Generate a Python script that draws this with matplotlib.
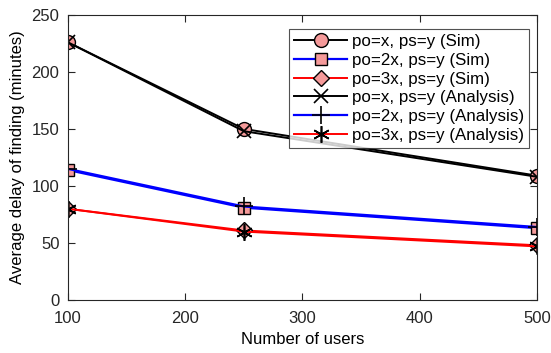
import numpy as np
import matplotlib.pyplot as plt

plt.rcParams['font.family'] = ['Liberation Sans', 'DejaVu Sans']

#%% data
users = [100, 250, 500]
sim_x = [226, 150, 109]
sim_2x = [114, 81, 63]
sim_3x = [80, 61, 48]
ana_x = [226, 148, 108]
ana_2x = [115, 82, 64]
ana_3x = [80, 60, 47]

labels = ['po=x, ps=y (Sim)', 'po=2x, ps=y (Sim)', 'po=3x, ps=y (Sim)',
          'po=x, ps=y (Analysis)', 'po=2x, ps=y (Analysis)', 'po=3x, ps=y (Analysis)']

#%% plot
fig = plt.figure(figsize=(5.51, 3.53), dpi=100)
ax = fig.add_axes([0.123, 0.150, 0.852, 0.808])

fill = '#f59a9a'
ax.plot(users, sim_x, 'k-', marker='o', ms=10, mfc=fill, mec='k', lw=1.4, label=labels[0])
ax.plot(users, sim_2x, 'b-', marker='s', ms=9, mfc=fill, mec='k', lw=1.6, label=labels[1])
ax.plot(users, sim_3x, 'r-', marker='D', ms=8.5, mfc=fill, mec='k', lw=1.4, label=labels[2])
ax.plot(users, ana_x, 'k-', marker='x', ms=10, mec='k', mew=1.2, lw=1.4, label=labels[3])
ax.plot(users, ana_2x, 'b-', marker='+', ms=13, mec='k', mew=1.2, lw=1.6, label=labels[4])
ax.plot(users, ana_3x, 'r-', marker=(6, 2, 0), ms=12, mec='k', mew=1.2, lw=1.4, label=labels[5])

ax.set_xlim(100, 500)
ax.set_ylim(0, 250)
ax.set_xticks([100, 200, 300, 400, 500])
ax.set_yticks([0, 50, 100, 150, 200, 250])
ax.set_xlabel('Number of users', fontsize=12, labelpad=4)
ax.set_ylabel('Average delay of finding (minutes)', fontsize=12, labelpad=5)
ax.tick_params(direction='in', labelsize=12, colors='#262626', length=5, top=True, right=True)
ax.tick_params(axis='x', pad=8)
ax.tick_params(axis='y', pad=6)
for s in ax.spines.values():
    s.set_color('#262626')
    s.set_linewidth(0.8)

leg = ax.legend(loc='upper right', bbox_to_anchor=(0.983, 0.95), fontsize=12.2,
                frameon=True, fancybox=False, edgecolor='#262626', handlelength=3.1,
                borderpad=0.3, labelspacing=0.22, handletextpad=0.3, borderaxespad=0)
leg.get_frame().set_linewidth(0.8)

fig.savefig('out.png', dpi=100)
